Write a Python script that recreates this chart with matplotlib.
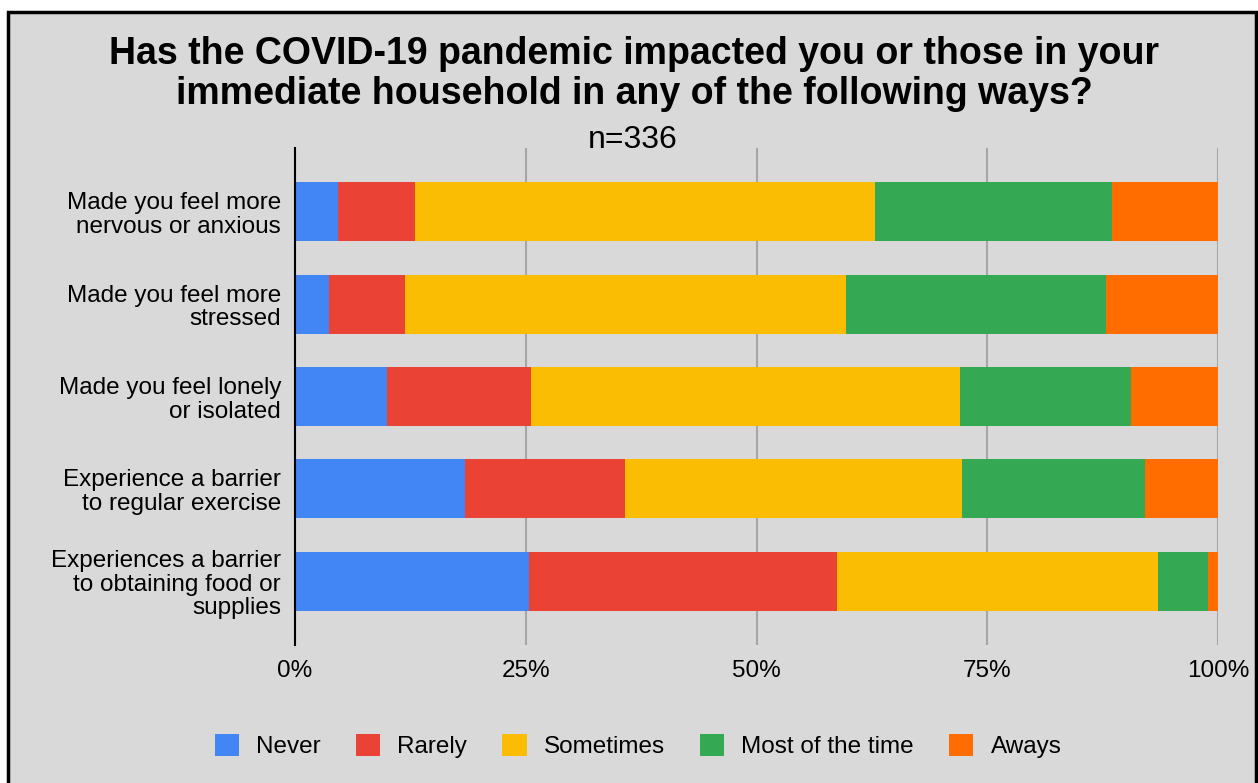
import numpy as np
import matplotlib.pyplot as plt
from matplotlib.patches import Rectangle

plt.rcParams['font.family'] = ['Liberation Sans', 'DejaVu Sans']

categories = ['Made you feel more\nnervous or anxious',
              'Made you feel more\nstressed',
              'Made you feel lonely\nor isolated',
              'Experience a barrier\nto regular exercise',
              'Experiences a barrier\nto obtaining food or\nsupplies']
series = ['Never', 'Rarely', 'Sometimes', 'Most of the time', 'Aways']
never = [4.7, 3.7, 10.0, 18.4, 25.4]
rarely = [8.3, 8.2, 15.6, 17.4, 33.3]
sometimes = [49.8, 47.8, 46.4, 36.5, 34.8]
most = [25.7, 28.2, 18.6, 19.8, 5.4]
always = [11.5, 12.1, 9.4, 7.9, 1.1]
colors = ['#4285f4', '#ea4335', '#fbbc04', '#34a853', '#ff6d01']

bg = '#d9d9d9'
fig = plt.figure(figsize=(12.58, 7.83), dpi=100)
fig.patch.set_facecolor('white')
# chart frame
fig.patches.append(Rectangle((8/1258, -0.05), 1248/1258, 1.05 - 12/783,
                             transform=fig.transFigure, facecolor=bg,
                             edgecolor='black', linewidth=2.5, zorder=-10))

ax = fig.add_axes([295/1258, 1 - 645/783, 923/1258, 497/783])
ax.set_facecolor(bg)

data = np.array([never, rarely, sometimes, most, always])
y = np.arange(len(categories))
left = np.zeros(len(categories))
for vals, name, c in zip(data, series, colors):
    ax.barh(y, vals, left=left, height=0.64, color=c, label=name, zorder=3)
    left += vals

ax.set_xlim(0, 100)
ax.set_ylim(len(categories) - 1 + 0.69, -0.69)
ax.set_xticks([0, 25, 50, 75, 100])
ax.set_xticklabels(['0%', '25%', '50%', '75%', '100%'], fontsize=17.5)
ax.set_yticks(y)
ax.set_yticklabels(categories, fontsize=17.5, linespacing=1.1)
ax.tick_params(axis='x', length=0, pad=11)
ax.tick_params(axis='y', length=0, pad=10)
ax.xaxis.grid(True, color='#a6a6a6', linewidth=1.5, zorder=0)
for s in ['top', 'right', 'bottom']:
    ax.spines[s].set_visible(False)
ax.spines['left'].set_color('black')
ax.spines['left'].set_linewidth(1.5)
ax.spines['left'].set_zorder(4)

fig.text(634/1258, 1 - 74/783, 'Has the COVID-19 pandemic impacted you or those in your\nimmediate household in any of the following ways?',
         ha='center', va='center', fontsize=27, fontweight='bold', linespacing=1.15)
fig.text(633/1258, 1 - 140/783, 'n=336', ha='center', va='center', fontsize=23)

leg = fig.legend(loc='center', bbox_to_anchor=(638/1258, 1 - 746/783), ncol=5,
                 frameon=False, fontsize=17.5, handlelength=1.0, handleheight=1.0,
                 columnspacing=1.45, handletextpad=0.7)

fig.savefig('out.png', dpi=100, facecolor=fig.get_facecolor())
